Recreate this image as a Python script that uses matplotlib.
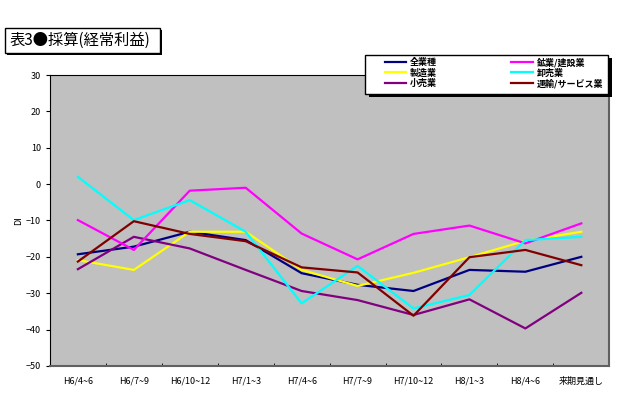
import matplotlib.pyplot as plt
from matplotlib.patches import Rectangle
import numpy as np

plt.rcParams['font.family'] = ['Noto Sans CJK JP', 'DejaVu Sans']

periods = ['H6/4~6', 'H6/7~9', 'H6/10~12', 'H7/1~3', 'H7/4~6',
           'H7/7~9', 'H7/10~12', 'H8/1~3', 'H8/4~6', '来期見通し']

all_ind = [-19.3, -17.2, -13.1, -15.4, -24.5, -27.7, -29.4, -23.6, -24.1, -20.0]
manuf = [-20.9, -23.6, -13.1, -13.1, -23.6, -28.0, -24.4, -20.1, -15.6, -13.1]
retail = [-23.4, -14.5, -17.7, -23.6, -29.4, -31.9, -36.0, -31.7, -39.7, -29.9]
mining = [-9.9, -18.1, -1.8, -1.0, -13.6, -20.7, -13.7, -11.4, -16.3, -10.8]
wholesale = [2.0, -9.9, -4.4, -13.1, -32.8, -22.5, -34.2, -30.5, -15.4, -14.5]
transport = [-21.3, -10.2, -13.7, -15.7, -22.9, -24.3, -36.2, -20.1, -18.1, -22.3]

series = [
    ('全業種', all_ind, '#000080'),
    ('製造業', manuf, '#FFFF00'),
    ('小売業', retail, '#800080'),
    ('鉱業/建設業', mining, '#FF00FF'),
    ('卸売業', wholesale, '#00FFFF'),
    ('運輸/サービス業', transport, '#800000'),
]

fig = plt.figure(figsize=(6.4, 3.93), dpi=100)
ax = fig.add_axes([0.078, 0.069, 0.874, 0.740])
ax.set_facecolor('#C0C0C0')

x = np.arange(len(periods))
for name, vals, col in series:
    ax.plot(x, vals, color=col, lw=1.6, label=name)

ax.set_xlim(-0.5, len(periods) - 0.5)
ax.set_ylim(-50, 30)
ax.set_yticks(np.arange(-50, 31, 10))
ax.set_xticks(x)
ax.set_xticklabels(periods)
ax.set_xticks(np.arange(-0.5, len(periods), 1), minor=True)
ax.tick_params(axis='x', which='major', length=0, pad=8, labelsize=6.5)
ax.tick_params(axis='x', which='minor', length=2, direction='in')
ax.tick_params(axis='y', length=3, labelsize=6.5, direction='out')
ax.set_ylabel('DI', fontsize=6.5, labelpad=2)
for s in ['left', 'top']:
    ax.spines[s].set_color('black')
for s in ['right', 'bottom']:
    ax.spines[s].set_color('#606060')
    ax.spines[s].set_linewidth(1.5)

W, H = 640, 393

# title box with shadow
fig.patches.append(Rectangle((7 / W, 1 - 55 / H), 155 / W, 25 / H,
                             transform=fig.transFigure, facecolor='black', edgecolor='none'))
fig.patches.append(Rectangle((5 / W, 1 - 53 / H), 155 / W, 25 / H,
                             transform=fig.transFigure, facecolor='white', edgecolor='black', lw=1))
fig.text(10 / W, 1 - 40.5 / H, '表3●採算(経常利益)', fontsize=11, va='center', ha='left')

# legend box with shadow (drawn above the axes)
fig.patches.append(Rectangle((369 / W, 1 - 97 / H), 243 / W, 39 / H,
                             transform=fig.transFigure, facecolor='black', edgecolor='none', zorder=5))
fig.patches.append(Rectangle((365 / W, 1 - 94 / H), 243 / W, 39 / H,
                             transform=fig.transFigure, facecolor='white', edgecolor='black',
                             lw=1, zorder=5))
leg = fig.legend(loc='upper left', ncol=2, bbox_to_anchor=(383 / W, 1 - 94 / H, 222 / W, 38 / H),
                 mode='expand', fontsize=6.5, frameon=False,
                 borderpad=0.2, labelspacing=0.12, handlelength=2.4, handletextpad=0.4,
                 borderaxespad=0, columnspacing=1.0)
leg.set_zorder(6)
for t in leg.get_texts():
    t.set_fontweight('bold')

fig.savefig('out.png', dpi=100)
